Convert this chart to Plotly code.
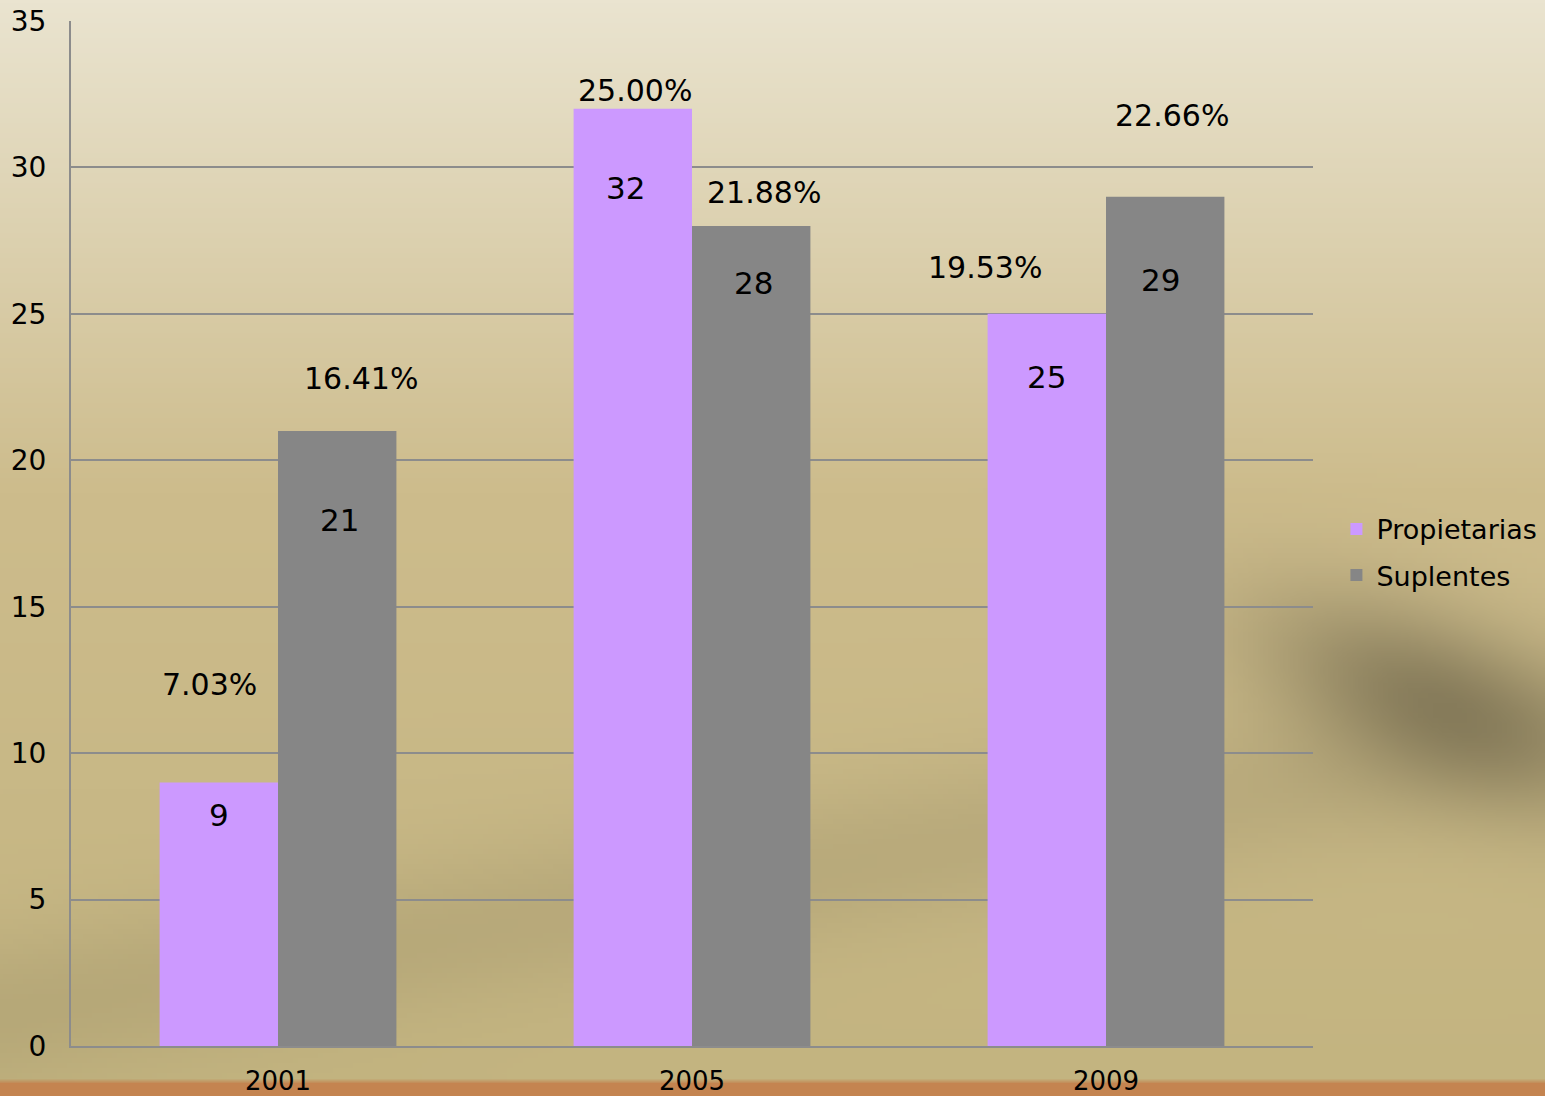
import base64, struct, zlib
import numpy as np
import plotly.graph_objects as go

# ---- data ----
years = ["2001", "2005", "2009"]
propietarias = [9, 32, 25]
suplentes = [21, 28, 29]
pct_propietarias = ["7.03%", "25.00%", "19.53%"]
pct_suplentes = ["16.41%", "21.88%", "22.66%"]

# ---- label placement (layout constants) ----
pct_prop_dx = [-0.166, -0.138, -0.292]
pct_prop_y = [12.36, 32.64, 26.6]
pct_sup_dx = [0.20, 0.174, 0.159]
pct_sup_y = [22.8, 29.16, 31.79]
val_prop_dx = [-0.143, -0.161, -0.143]
val_prop_drop = [1.1, 2.7, 2.15]
val_sup_dx = [0.149, 0.149, 0.131]
val_sup_drop = [3.05, 1.95, 2.85]

# ---- background image (soft tan gradient) ----
W, H = 309, 219
yy, xx = np.mgrid[0:H, 0:W].astype(float)
fy = yy / (H - 1)
fx = xx / (W - 1)
top = np.array([234, 228, 208], float)
mid = np.array([205, 188, 140], float)
low = np.array([195, 180, 128], float)
t1 = np.clip(fy / 0.45, 0, 1)[..., None]
t2 = np.clip((fy - 0.45) / 0.55, 0, 1)[..., None]
img = top * (1 - t1) + mid * t1
img = img * (1 - t2) + low * t2
# soft darker diagonal swoosh on the right
u = (fx - 0.93) * 0.8 + (fy - 0.64) * 0.6
v = -(fx - 0.93) * 0.6 + (fy - 0.64) * 0.8
d = np.exp(-((u / 0.13) ** 2 + (v / 0.07) ** 2))
img = img * (1 - 0.3 * d[..., None])
# gentle darker bands
band = np.exp(-(((fy - 0.80 + 0.25 * (fx - 0.5)) / 0.07) ** 2))
img = img * (1 - 0.07 * band[..., None])
# orange strip at bottom
strip = (fy > 1082 / 1096).astype(float)[..., None]
img = img * (1 - strip) + np.array([196, 132, 80], float) * strip
img = np.clip(img, 0, 255).astype(np.uint8)

def png_bytes(a):
    h, w, _ = a.shape
    raw = b"".join(b"\x00" + a[r].tobytes() for r in range(h))
    def chunk(tag, data):
        c = struct.pack(">I", len(data)) + tag + data
        return c + struct.pack(">I", zlib.crc32(tag + data) & 0xFFFFFFFF)
    return (b"\x89PNG\r\n\x1a\n" + chunk(b"IHDR", struct.pack(">IIBBBBB", w, h, 8, 2, 0, 0, 0))
            + chunk(b"IDAT", zlib.compress(raw, 9)) + chunk(b"IEND", b""))

bg_uri = "data:image/png;base64," + base64.b64encode(png_bytes(img)).decode()

FONT = "DejaVu Sans, Verdana, sans-serif"
xs = list(range(len(years)))

fig = go.Figure()
fig.add_trace(go.Bar(x=xs, y=propietarias, name="Propietarias", marker_color="#CC99FF",
                     marker_line_width=0, legendgroup="a", hoverinfo="y"))
fig.add_trace(go.Bar(x=xs, y=suplentes, name="Suplentes", marker_color="#868686",
                     marker_line_width=0, legendgroup="b", hoverinfo="y"))

ann = []
for i in xs:
    ann.append(dict(x=i + pct_prop_dx[i], y=pct_prop_y[i], text=pct_propietarias[i], font_size=30))
    ann.append(dict(x=i + pct_sup_dx[i], y=pct_sup_y[i], text=pct_suplentes[i], font_size=30))
    ann.append(dict(x=i + val_prop_dx[i], y=propietarias[i] - val_prop_drop[i],
                    text=str(propietarias[i]), font_size=31))
    ann.append(dict(x=i + val_sup_dx[i], y=suplentes[i] - val_sup_drop[i],
                    text=str(suplentes[i]), font_size=31))
for a in ann:
    fs = a.pop("font_size")
    a.update(xref="x", yref="y", showarrow=False, font=dict(family=FONT, size=fs, color="#000000"),
             xanchor="center", yanchor="middle")

fig.update_layout(
    width=1545, height=1096, autosize=False,
    margin=dict(l=71, r=232, t=21, b=50, autoexpand=False),
    paper_bgcolor="#CDBB88", plot_bgcolor="rgba(0,0,0,0)",
    barmode="group", bargap=0.428, bargroupgap=0,
    font=dict(family=FONT, size=26, color="#000000"),
    showlegend=True,
    legend=dict(xref="container", yref="container", x=0.865, y=0.496,
                xanchor="left", yanchor="middle", bgcolor="rgba(0,0,0,0)",
                font=dict(family=FONT, size=27, color="#000000"), traceorder="grouped",
                tracegroupgap=8, itemwidth=30),
    annotations=ann,
    images=[dict(source=bg_uri, xref="paper", yref="paper", x=-71 / 1242, y=1 + 21 / 1025,
                 sizex=1545 / 1242, sizey=1096 / 1025, sizing="stretch", layer="below",
                 xanchor="left", yanchor="top")],
)
fig.update_xaxes(tickvals=xs, ticktext=years, range=[-0.5, 2.5], showgrid=False,
                 showline=True, linecolor="#8C8C8C", linewidth=2, ticks="", automargin=False,
                 ticklabelstandoff=11, tickfont=dict(size=26))
fig.update_yaxes(range=[0, 35], dtick=5, showgrid=True, gridcolor="#8C8C8C", gridwidth=1.5,
                 showline=True, linecolor="#8C8C8C", linewidth=2, ticks="", zeroline=False,
                 automargin=False, ticklabelstandoff=17, tickfont=dict(size=28))

fig.write_html("out.html", config={"displayModeBar": False},
               post_script="document.body.style.margin='0';document.body.style.overflow='hidden';")
